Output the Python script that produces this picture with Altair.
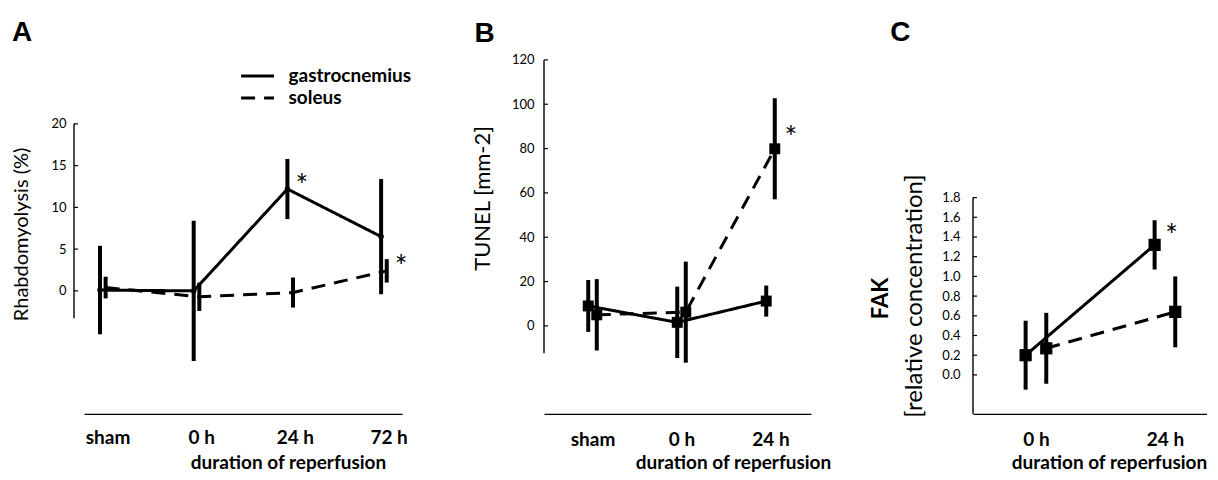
import json
import altair as alt
import pandas as pd

# ---------------- data ----------------
SERIES = ["gastrocnemius", "soleus"]

A_CATS = ["sham", "0 h", "24 h", "72 h"]
A_GASTRO_MEAN = [0.1, 0.0, 12.2, 6.5]
A_GASTRO_SD = [5.3, 8.4, 3.6, 6.9]
A_SOLEUS_MEAN = [0.4, -0.7, -0.2, 2.4]
A_SOLEUS_SD = [1.3, 1.7, 1.8, 1.4]
A_SIG = [("gastrocnemius", "24 h"), ("soleus", "72 h")]
A_YTICKS = [0, 5, 10, 15, 20]

B_CATS = ["sham", "0 h", "24 h"]
B_GASTRO_MEAN = [9.0, 1.6, 11.2]
B_GASTRO_SD = [11.7, 16.1, 7.0]
B_SOLEUS_MEAN = [5.0, 6.2, 79.9]
B_SOLEUS_SD = [16.1, 22.8, 22.8]
B_SIG = [("soleus", "24 h")]
B_YTICKS = [0, 20, 40, 60, 80, 100, 120]

C_CATS = ["0 h", "24 h"]
C_GASTRO_MEAN = [0.2, 1.32]
C_GASTRO_SD = [0.35, 0.25]
C_SOLEUS_MEAN = [0.27, 0.64]
C_SOLEUS_SD = [0.36, 0.36]
C_SIG = [("gastrocnemius", "24 h")]
C_YTICKS = [0.0, 0.2, 0.4, 0.6, 0.8, 1.0, 1.2, 1.4, 1.6, 1.8]

# ---------------- style ----------------
FONT = "Lato"
LETTER_FONT = "Liberation Sans"
INK = "#000000"
H = 354


def build_df(cats, gm, gs, sm, ss, sig, off):
    rows = []
    for name, means, sds, o in ((SERIES[0], gm, gs, -off), (SERIES[1], sm, ss, off)):
        for i, (c, m, s) in enumerate(zip(cats, means, sds)):
            rows.append(dict(series=name, cat=c, pos=i + o, mean=m, lo=m - s, hi=m + s,
                             star="*" if (name, c) in sig else ""))
    return pd.DataFrame(rows)


def x_enc(cats, dom, rng, shift, tx, ty, pad):
    labels = json.dumps(cats)
    return alt.X(
        "pos:Q",
        scale=alt.Scale(domain=dom, range=rng, nice=False, zero=False),
        axis=alt.Axis(
            values=[i + shift for i in range(len(cats))],
            labelExpr=f"{labels}[round(datum.value)]",
            title="duration of reperfusion", titleX=tx, titleY=ty,
            titleAlign="center", titleBaseline="middle",
            titleFont=FONT, titleFontSize=19, titleFontWeight="bold", titleColor=INK,
            labelFont=FONT, labelFontSize=19, labelFontWeight="bold", labelColor=INK,
            labelBaseline="middle", labelPadding=pad, labelOverlap=False, labelFlush=False,
            ticks=False, tickSize=0, grid=False,
            domain=True, domainColor=INK, domainWidth=1.4,
        ),
    )


def y_axis(values, fmt, pad, title, tx, ty, tsize):
    return alt.Axis(
        orient="left", values=values, format=fmt, domain=False, ticks=False, tickSize=0,
        grid=False, labelPadding=pad, labelFont=FONT, labelFontSize=13, labelColor=INK,
        title=title, titleX=tx, titleY=ty, titleAngle=270, titleAlign="center",
        titleBaseline="middle", titleFont=FONT, titleFontSize=tsize,
        titleFontWeight="normal", titleColor=INK,
    )


def panel(df, xe, yscale, yaxis, yline, yticks, width, markers, msize, star_dx, star_dy,
          letter, letter_offset, letter_dx, legend, extra_axis=None):
    base = alt.Chart(df)

    def Y(field, ax=yaxis):
        return alt.Y(field, scale=yscale, axis=ax)

    other_ax = None if extra_axis is not None else yaxis

    err = base.mark_rule(strokeWidth=4, color=INK).encode(
        x=xe, y=Y("lo:Q", other_ax), y2="hi:Q")
    line = base.mark_line(strokeWidth=3, color=INK).encode(
        x=xe, y=Y("mean:Q"),
        strokeDash=alt.StrokeDash(
            "series:N",
            scale=alt.Scale(domain=SERIES, range=[[1, 0], [14, 9]]),
            legend=legend),
    )
    if markers == "circle":
        pts = base.transform_filter(alt.datum.series == SERIES[0]).mark_point(
            filled=True, shape="circle", size=msize, color=INK, opacity=1)
    else:
        pts = base.mark_point(filled=True, shape="square", size=msize, color=INK, opacity=1)
    pts = pts.encode(x=xe, y=Y("mean:Q", other_ax))
    stars = base.transform_filter(alt.datum.star != "").mark_text(
        font=FONT, fontSize=30, color=INK, align="center", baseline="alphabetic",
        dx=star_dx, dy=star_dy).encode(x=xe, y=Y("mean:Q", other_ax), text="star:N")

    yl = alt.Chart(pd.DataFrame({"y0": [yline[0]], "y1": [yline[1]]})).mark_rule(
        color=INK, strokeWidth=1.4).encode(
        x=alt.value(0), y=Y("y0:Q", other_ax), y2="y1:Q")
    yt = alt.Chart(pd.DataFrame({"t": yticks})).mark_rule(
        color=INK, strokeWidth=1.2).encode(
        x=alt.value(0), x2=alt.value(4),
        y=Y("t:Q", extra_axis if extra_axis is not None else yaxis))

    ch = alt.layer(yl, yt, err, line, pts, stars).properties(
        width=width, height=H,
        title=alt.TitleParams(letter, anchor="start", frame="bounds", font=LETTER_FONT,
                              fontSize=28, fontWeight="bold", color=INK,
                              offset=letter_offset, dx=letter_dx),
    )
    if extra_axis is not None:
        ch = ch.resolve_axis(y="independent")
    return ch


# ---------------- panel A ----------------
dfA = build_df(A_CATS, A_GASTRO_MEAN, A_GASTRO_SD, A_SOLEUS_MEAN, A_SOLEUS_SD, A_SIG, 0.03)
xA = x_enc(A_CATS, [-0.2006, 3.193], [10, 328], 0.05, 214, 48.5, 24)
ysA = alt.Scale(domain=[-14.73, 27.66], nice=False, zero=False)
yaA = y_axis(A_YTICKS, "d", 8, "Rhabdomyolysis (%)", -53, 174, 20)
legA = alt.Legend(
    title=None, orient="none", legendX=173.5, legendY=6, symbolType="M-2,0H2",
    symbolSize=270, symbolStrokeWidth=3, symbolStrokeColor=INK,
    labelFont=FONT, labelFontSize=19, labelFontWeight="bold", labelColor=INK,
    labelOffset=21, rowPadding=2.0, padding=0)
chartA = panel(dfA, xA, ysA, yaA, [-3.27, 20], A_YTICKS, 328, "circle", 30,
               14.5, 6.6, "A", 12.7, 1, legA)

# ---------------- panel B ----------------
dfB = build_df(B_CATS, B_GASTRO_MEAN, B_GASTRO_SD, B_SOLEUS_MEAN, B_SOLEUS_SD, B_SIG, 0.048)
xB = x_enc(B_CATS, [-0.545, 2.455], [0, 267], 0.0, 189, 48.5, 25.5)
ysB = alt.Scale(domain=[-39.7, 120], nice=False, zero=False)
yaB = y_axis(B_YTICKS, "d", 10, "TUNEL [mm-2]", -61.5, 138, 22)
chartB = panel(dfB, xB, ysB, yaB, [-12.3, 120], B_YTICKS, 287, "square", 120,
               16, -0.6, "B", 5.7, 3, None)

# ---------------- panel C ----------------
dfC = build_df(C_CATS, C_GASTRO_MEAN, C_GASTRO_SD, C_SOLEUS_MEAN, C_SOLEUS_SD, C_SIG, 0.08)
xC = x_enc(C_CATS, [-0.488, 1.326], [0, 234], 0.0, 136, 48.5, 25.5)
ysC = alt.Scale(domain=[-0.396, 3.198], nice=False, zero=False)
yaC = y_axis(C_YTICKS, ".1f", 13, "[relative concentration]", -58.8, 235.7, 24)
fakAxis = alt.Axis(
    orient="left", labels=False, domain=False, ticks=False, grid=False,
    title="FAK", titleX=-92.8, titleY=238, titleAngle=270, titleAlign="center",
    titleBaseline="middle", titleFont=FONT, titleFontSize=22, titleFontWeight="bold",
    titleColor=INK)
chartC = panel(dfC, xC, ysC, yaC, [-0.396, 1.8], C_YTICKS, 234, "square", 150,
               17, 1.3, "C", 12.7, 21, None, extra_axis=fakAxis)

chart = alt.hconcat(chartA, chartB, chartC, spacing=142, bounds="flush").resolve_scale(
    strokeDash="independent"
).configure_view(stroke=None).properties(
    background="white", padding={"left": 3, "top": 10.9, "right": 0, "bottom": 0})

chart.save("out.html", embed_options={"renderer": "svg", "actions": False})
